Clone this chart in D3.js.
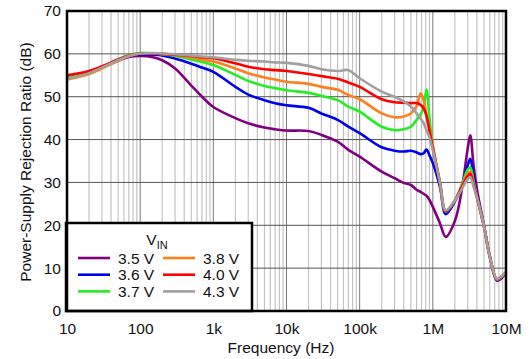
<!DOCTYPE html>
<html>
<head>
<meta charset="utf-8">
<script src="https://cdn.jsdelivr.net/npm/d3@7"></script>
<style>
  html, body { margin: 0; padding: 0; background: #fff; }
  svg { display: block; }
  text { font-family: "Liberation Sans", Arial, sans-serif; fill: #111; }
</style>
</head>
<body>
<svg id="chart" width="532" height="359"></svg>
<script>
// ---------- data ----------
const freqs = [10, 20, 30, 50, 70, 100, 150, 200, 300, 500, 700,
  1e3, 2e3, 3e3, 5e3, 7e3, 1e4, 2e4, 3e4, 5e4, 7e4, 1e5, 2e5, 3e5, 4e5, 5e5, 6e5,
  6.8e5, 7.5e5, 8.2e5, 9e5, 1e6, 1.25e6, 1.5e6, 2e6, 2.5e6, 3e6, 3.25e6, 3.6e6,
  4e6, 5e6, 6e6, 7.5e6, 8.5e6, 1e7];

const v35 = [54.5, 55.6, 56.8, 58.4, 59.3, 59.5, 59.2, 58.5, 56.6, 52.6, 50.0,
  47.6, 45.0, 43.8, 42.8, 42.4, 42.1, 42.0, 41.1, 39.5, 37.6, 36.0, 32.5, 31.0, 29.9, 29.4, 28.3,
  27.8, 27.3, 26.9, 25.9, 24.3, 20.5, 17.3, 21.0, 28.5, 38.0, 41.0, 34.0,
  28.5, 20.0, 12.8, 7.1, 7.5, 9.0];
const v36 = [54.3, 55.6, 56.9, 58.6, 59.5, 59.9, 59.8, 59.6, 58.9, 57.7, 56.8,
  55.8, 52.3, 50.5, 49.2, 48.5, 48.0, 47.4, 46.1, 44.6, 43.0, 41.5, 38.2, 37.4, 37.2, 37.4, 37.0,
  36.6, 36.8, 37.7, 36.3, 34.5, 29.0, 22.6, 25.5, 29.5, 34.0, 35.5, 31.5,
  27.0, 19.8, 12.7, 7.2, 7.7, 9.0];
const v37 = [54.4, 55.6, 56.9, 58.7, 59.7, 60.2, 60.1, 59.9, 59.5, 58.7, 58.1,
  57.4, 55.1, 53.7, 52.5, 52.0, 51.5, 50.9, 50.2, 49.2, 47.7, 46.5, 43.0, 42.2, 42.4, 43.0, 44.6,
  45.8, 47.7, 51.7, 45.0, 38.5, 30.2, 23.2, 25.8, 29.5, 33.0, 33.5, 30.3,
  26.7, 19.7, 12.7, 7.3, 7.8, 9.0];
const v38 = [54.0, 55.3, 56.6, 58.4, 59.5, 60.1, 60.1, 60.0, 59.7, 59.2, 58.7,
  58.2, 56.6, 55.5, 54.5, 54.0, 53.5, 53.0, 52.3, 51.6, 50.4, 49.4, 46.1, 45.2, 45.4, 46.1, 47.8,
  50.8, 49.2, 45.5, 42.5, 38.5, 30.0, 23.3, 25.8, 29.2, 32.0, 32.5, 29.8,
  26.6, 19.7, 12.7, 7.4, 7.9, 9.0];
const v40 = [55.0, 56.0, 57.1, 58.7, 59.6, 60.1, 60.1, 60.0, 59.8, 59.5, 59.2,
  59.0, 57.8, 57.0, 56.4, 56.2, 56.0, 55.3, 54.8, 54.2, 53.3, 52.3, 49.4, 48.7, 48.6, 48.5, 48.5,
  48.1, 47.3, 45.5, 42.0, 38.0, 30.0, 23.3, 25.8, 29.0, 31.5, 32.0, 29.5,
  26.5, 19.7, 12.7, 7.4, 7.9, 9.0];
const v43 = [54.2, 55.5, 56.8, 58.5, 59.5, 60.1, 60.2, 60.1, 59.9, 59.6, 59.4,
  59.2, 58.6, 58.4, 58.2, 58.0, 57.9, 57.2, 56.4, 56.0, 56.2, 54.3, 51.2, 50.0, 48.9, 47.7, 46.1,
  44.9, 43.8, 42.2, 40.5, 37.5, 30.0, 23.5, 25.8, 28.5, 30.8, 31.2, 29.0,
  26.5, 19.7, 12.7, 7.5, 8.0, 9.1];

const seriesNames = ["3.5 V", "3.6 V", "3.7 V", "3.8 V", "4.0 V", "4.3 V"];
const seriesColors = ["#800080", "#0000f0", "#22ee22", "#ff7f1e", "#ff0000", "#a0a0a0"];
const seriesValues = [v35, v36, v37, v38, v40, v43];

const xTickValues = [10, 100, 1e3, 1e4, 1e5, 1e6, 1e7];
const xTickLabels = ["10", "100", "1k", "10k", "100k", "1M", "10M"];
const yTickValues = [0, 10, 20, 30, 40, 50, 60, 70];

// ---------- layout ----------
const L = 67, R = 506, T = 11, B = 311;
const svg = d3.select("#chart");
const x = d3.scaleLog().domain([10, 1e7]).range([L, R]);
const y = d3.scaleLinear().domain([0, 70]).range([B, T]);

// grid: vertical minor then major
const minor = [];
for (let d = 10; d < 1e7; d *= 10) for (let k = 2; k <= 9; k++) minor.push(d * k);
svg.append("g").selectAll("line").data(minor).join("line")
  .attr("x1", d => x(d)).attr("x2", d => x(d)).attr("y1", T).attr("y2", B)
  .attr("stroke", "#c4c4c4").attr("stroke-width", 1.2);
svg.append("g").selectAll("line").data(xTickValues).join("line")
  .attr("x1", d => x(d)).attr("x2", d => x(d)).attr("y1", T).attr("y2", B)
  .attr("stroke", "#7a7a7a").attr("stroke-width", 1);
svg.append("g").selectAll("line").data(yTickValues).join("line")
  .attr("x1", L).attr("x2", R).attr("y1", d => y(d)).attr("y2", d => y(d))
  .attr("stroke", "#555").attr("stroke-width", 1);

// curves
const line = d3.line().x(d => x(d[0])).y(d => y(d[1])).curve(d3.curveCatmullRom.alpha(0.5));
seriesValues.forEach((vals, i) => {
  svg.append("path")
    .datum(freqs.map((f, j) => [f, vals[j]]))
    .attr("d", line)
    .attr("fill", "none")
    .attr("stroke", seriesColors[i])
    .attr("stroke-width", 2.6)
    .attr("stroke-linejoin", "round");
});

// legend
const lg = svg.append("g");
lg.append("rect").attr("x", 66).attr("y", 223).attr("width", 186).attr("height", 88)
  .attr("fill", "#fff").attr("stroke", "#000").attr("stroke-width", 2.5);
const ttl = lg.append("text").attr("x", 157).attr("y", 245).attr("text-anchor", "middle")
  .style("font-size", "15.5px");
ttl.append("tspan").text("V");
ttl.append("tspan").text("IN").attr("dy", 4).style("font-size", "11px");
seriesNames.forEach((n, i) => {
  const col = Math.floor(i / 3), row = i % 3;
  const lx = 78 + col * 85, ly = 258 + row * 16.7;
  lg.append("line").attr("x1", lx).attr("x2", lx + 32).attr("y1", ly).attr("y2", ly)
    .attr("stroke", seriesColors[i]).attr("stroke-width", 2.6);
  lg.append("text").attr("x", lx + 40).attr("y", ly + 5.5).text(n).style("font-size", "15.5px");
});

// border
svg.append("rect").attr("x", L).attr("y", T).attr("width", R - L).attr("height", B - T)
  .attr("fill", "none").attr("stroke", "#000").attr("stroke-width", 2.5);

// axes
const xAxis = svg.append("g").attr("transform", `translate(0,${B})`)
  .call(d3.axisBottom(x).tickValues(xTickValues).tickSize(0)
    .tickFormat((d, i) => xTickLabels[i]));
xAxis.select(".domain").remove();
xAxis.selectAll("text").attr("y", 23).attr("dy", 0)
  .style("font-size", "15.5px").style("font-family", "'Liberation Sans', Arial, sans-serif").attr("fill", "#111");

const yAxis = svg.append("g").attr("transform", `translate(${L},0)`)
  .call(d3.axisLeft(y).tickValues(yTickValues).tickSize(0).tickPadding(6));
yAxis.select(".domain").remove();
yAxis.selectAll("text").style("font-size", "15.5px")
  .style("font-family", "'Liberation Sans', Arial, sans-serif").attr("fill", "#111");

svg.append("text").attr("x", 281).attr("y", 353).attr("text-anchor", "middle")
  .style("font-size", "15.5px").text("Frequency (Hz)");
svg.append("text").attr("transform", "translate(31,162) rotate(-90)").attr("text-anchor", "middle")
  .style("font-size", "15.5px").text("Power-Supply Rejection Ratio (dB)");
</script>
</body>
</html>
